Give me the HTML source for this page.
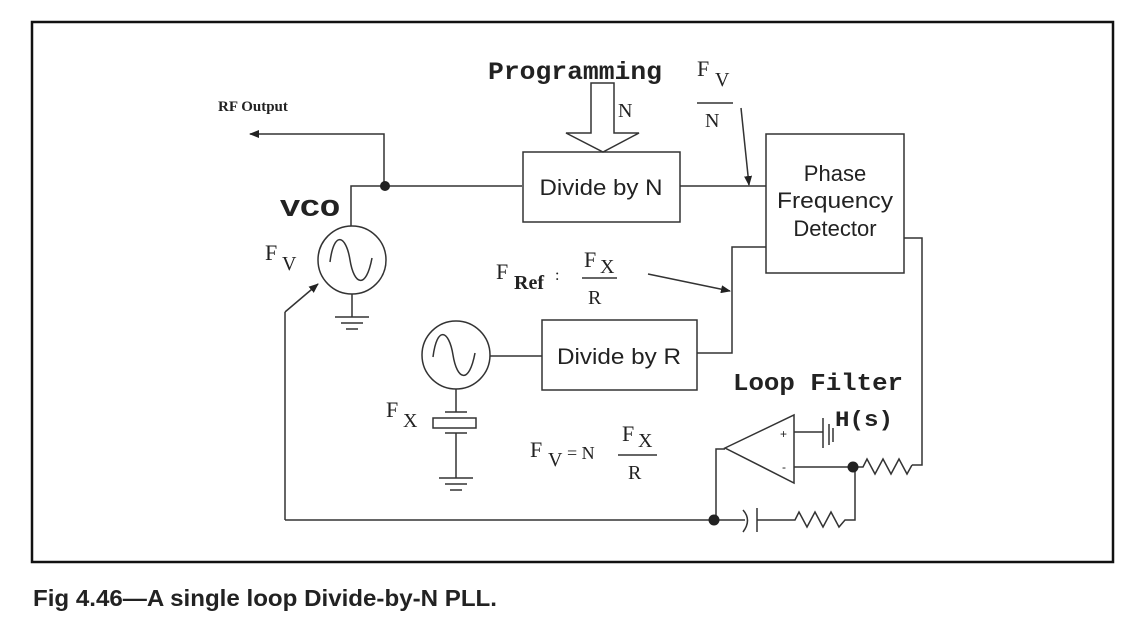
<!DOCTYPE html>
<html><head><style>
html,body{margin:0;padding:0;background:#fff;}
svg{display:block;}
.m{font-family:"Liberation Mono",monospace;font-weight:bold;}
.s{font-family:"Liberation Serif",serif;}
.a{font-family:"Liberation Sans",sans-serif;}
</style></head><body>
<svg width="1137" height="621" viewBox="0 0 1137 621" xmlns="http://www.w3.org/2000/svg">
<defs>
<marker id="ar" markerWidth="10" markerHeight="8" refX="9" refY="4" orient="auto" markerUnits="userSpaceOnUse">
<path d="M0,0 L10,4 L0,8 z" fill="#222"/></marker>
</defs>
<rect x="32" y="22" width="1081" height="540" fill="none" stroke="#111" stroke-width="2.5"/>
<g stroke="#333" stroke-width="1.5" fill="none">
<polyline points="384,186 384,134 250,134" marker-end="url(#ar)"/>
<polyline points="351,226 351,186 522,186"/>
<circle cx="352" cy="260" r="34"/>
<path d="M330,262 C334,230 346,235 350,260 C354,285 366,290 372,258"/>
<line x1="352" y1="294" x2="352" y2="317"/>
<line x1="335" y1="317" x2="369" y2="317"/><line x1="341" y1="323" x2="363" y2="323"/><line x1="346" y1="329" x2="358" y2="329"/>
<rect x="523" y="152" width="157" height="70"/>
<line x1="680" y1="186" x2="766" y2="186"/>
<path d="M591,83 L614,83 L614,133 L639,133 L603,152 L566,133 L591,133 Z"/>
<line x1="741" y1="108" x2="749" y2="185" marker-end="url(#ar)"/>
<line x1="697" y1="103" x2="733" y2="103"/>
<rect x="766" y="134" width="138" height="139"/>
<polyline points="904,238 922,238 922,465 912,465"/>
<polyline points="766,247 732,247 732,353 697,353"/>
<line x1="648" y1="274" x2="730" y2="291" marker-end="url(#ar)"/>
<line x1="582" y1="278" x2="617" y2="278"/>
<rect x="542" y="320" width="155" height="70"/>
<line x1="490" y1="356" x2="542" y2="356"/>
<circle cx="456" cy="355" r="34"/>
<path d="M433,357 C437,325 449,330 453,355 C457,380 469,385 475,353"/>
<line x1="456" y1="389" x2="456" y2="412"/>
<line x1="445" y1="412" x2="467" y2="412"/>
<rect x="433" y="418" width="43" height="10"/>
<line x1="445" y1="433" x2="467" y2="433"/>
<line x1="456" y1="433" x2="456" y2="478"/>
<line x1="439" y1="478" x2="473" y2="478"/><line x1="445" y1="484" x2="467" y2="484"/><line x1="450" y1="490" x2="462" y2="490"/>
<line x1="618" y1="455" x2="657" y2="455"/>
<path d="M725,448 L794,415 L794,483 Z"/>
<line x1="794" y1="432" x2="823" y2="432"/>
<line x1="823" y1="418" x2="823" y2="448"/>
<line x1="829" y1="424" x2="829" y2="445"/>
<line x1="833" y1="428" x2="833" y2="442"/>
<line x1="794" y1="467" x2="853" y2="467"/>
<polyline points="853,467 863,467 867,459 875,474 883,459 891,474 899,459 907,474 912,465"/>
<polyline points="725,449 716,449 716,520"/>
<polyline points="285,520 714,520 745,520"/>
<path d="M743,510 Q752,520 743,532"/>
<line x1="757" y1="508" x2="757" y2="532"/>
<polyline points="757,520 795,520 799,512 807,527 815,512 823,527 831,512 839,527 845,520 855,520 855,467"/>
<polyline points="285,520 285,312"/>
<line x1="285" y1="312" x2="318" y2="284" marker-end="url(#ar)"/>
</g>
<g fill="#222">
<circle cx="385" cy="186" r="5"/>
<circle cx="853" cy="467" r="5.5"/>
<circle cx="714" cy="520" r="5.5"/>
</g>
<g fill="#222">
<text x="218" y="111" font-family="Liberation Serif" font-weight="bold" font-size="15">RF Output</text>
<text x="280" y="216" class="m" font-size="24" textLength="60" lengthAdjust="spacingAndGlyphs">VCO</text>
<text x="265" y="260" class="s" font-size="22">F</text><text x="282" y="270" class="s" font-size="20">V</text>
<text x="488" y="79" class="m" font-size="25" textLength="174" lengthAdjust="spacingAndGlyphs">Programming</text>
<text x="618" y="117" class="s" font-size="20">N</text>
<text x="697" y="76" class="s" font-size="22">F</text><text x="715" y="86" class="s" font-size="20">V</text>
<text x="705" y="127" class="s" font-size="20">N</text>
<text x="601" y="195" class="a" font-size="22" text-anchor="middle" textLength="123" lengthAdjust="spacingAndGlyphs">Divide by N</text>
<text x="835" y="181" class="a" font-size="22" text-anchor="middle">Phase</text>
<text x="835" y="208" class="a" font-size="22" text-anchor="middle" textLength="116" lengthAdjust="spacingAndGlyphs">Frequency</text>
<text x="835" y="236" class="a" font-size="22" text-anchor="middle">Detector</text>
<text x="496" y="279" class="s" font-size="22">F</text><text x="514" y="289" class="s" font-size="20" font-weight="bold">Ref</text>
<text x="555" y="280" class="s" font-size="16">:</text>
<text x="584" y="267" class="s" font-size="22">F</text><text x="600" y="273" class="s" font-size="20">X</text>
<text x="588" y="304" class="s" font-size="20">R</text>
<text x="619" y="364" class="a" font-size="22" text-anchor="middle" textLength="124" lengthAdjust="spacingAndGlyphs">Divide by R</text>
<text x="386" y="417" class="s" font-size="22">F</text><text x="403" y="427" class="s" font-size="20">X</text>
<text x="530" y="457" class="s" font-size="22">F</text><text x="548" y="466" class="s" font-size="20">V</text>
<text x="567" y="459" class="s" font-size="18">= N</text>
<text x="622" y="441" class="s" font-size="22">F</text><text x="638" y="447" class="s" font-size="20">X</text>
<text x="628" y="479" class="s" font-size="20">R</text>
<text x="733" y="390" class="m" font-size="24" textLength="170" lengthAdjust="spacingAndGlyphs">Loop Filter</text>
<text x="835" y="426" class="m" font-size="22" textLength="58" lengthAdjust="spacingAndGlyphs">H(s)</text>
<text x="780" y="438" class="a" font-size="12">+</text>
<text x="782" y="471" class="a" font-size="12">-</text>
<text x="33" y="606" class="a" font-size="23" font-weight="bold" textLength="464" lengthAdjust="spacingAndGlyphs">Fig 4.46—A single loop Divide-by-N PLL.</text>
</g>
</svg>
</body></html>
